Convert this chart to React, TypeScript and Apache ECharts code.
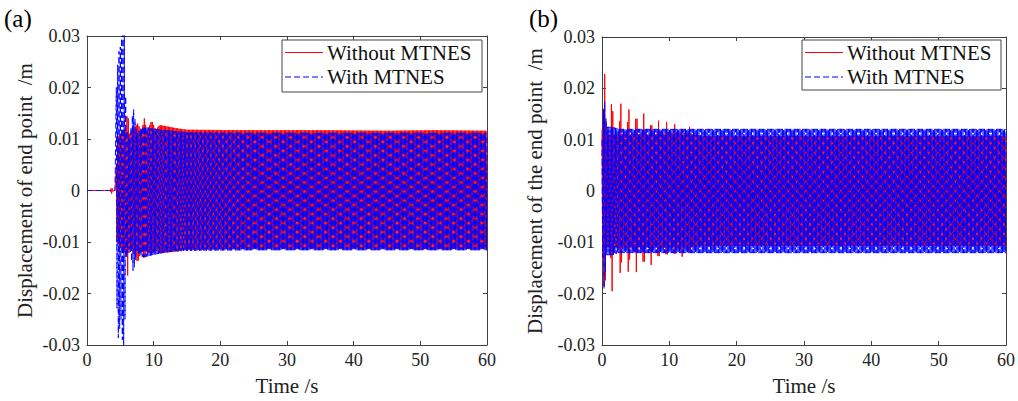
import React, { useEffect, useRef } from "react";
import * as echarts from "echarts";

// ---------- Data (envelopes) ----------
// Panel (a): Without MTNES (red)
const aRedT = [0, 3.4, 3.7, 4.0, 4.3, 4.5, 5.5, 5.85, 6.1, 6.35, 7.0, 7.6, 8.2, 8.6, 9.0, 9.7, 10.3, 10.9, 12.2, 13.3, 15, 25, 35, 45, 52, 60];
const aRedUp = [0, 0, 0.0006, 0, 0, 0.010, 0.012, 0.012, 0.016, 0.011, 0.012, 0.013, 0.0115, 0.014, 0.0115, 0.0136, 0.0118, 0.0127, 0.0124, 0.0121, 0.0118, 0.0117, 0.0117, 0.0116, 0.0117, 0.0116];
const aRedLo = [0, 0, -0.0006, 0, 0, -0.010, -0.012, -0.012, -0.0165, -0.011, -0.012, -0.014, -0.0115, -0.0135, -0.0115, -0.0125, -0.0115, -0.0122, -0.012, -0.0118, -0.0115, -0.0113, -0.0113, -0.0113, -0.0114, -0.0113];
// Panel (a): With MTNES (blue)
const aBlueT = [0, 4.3, 4.4, 4.7, 5.1, 5.55, 5.9, 6.4, 6.95, 7.5, 8.4, 10, 12, 15, 25, 35, 45, 60];
const aBlueUp = [0, 0, 0.020, 0.0266, 0.0283, 0.034, 0.012, 0.010, 0.0162, 0.011, 0.0125, 0.012, 0.0117, 0.0113, 0.0112, 0.0112, 0.0112, 0.0112];
const aBlueLo = [0, 0, -0.020, -0.0286, -0.025, -0.034, -0.013, -0.011, -0.016, -0.012, -0.013, -0.0125, -0.012, -0.0117, -0.0116, -0.0116, -0.0116, -0.0116];

// Panel (b): Without MTNES (red)
const bRedT = [0, 0.15, 0.4, 0.65, 1.25, 1.48, 1.72, 2.5, 2.77, 3.0, 3.7, 3.95, 4.2, 4.85, 5.1, 5.35, 5.95, 6.2, 6.45, 7.05, 7.3, 7.55, 8.15, 8.4, 8.65, 9.35, 9.6, 9.85, 10.55, 10.8, 11.05, 11.65, 11.9, 12.15, 12.75, 13.0, 13.25, 15, 60];
const bRedUp = [0.012, 0.014, 0.0228, 0.011, 0.011, 0.0201, 0.011, 0.011, 0.0179, 0.011, 0.011, 0.0171, 0.011, 0.011, 0.0161, 0.011, 0.011, 0.0151, 0.011, 0.011, 0.014, 0.011, 0.011, 0.0137, 0.011, 0.011, 0.0134, 0.011, 0.011, 0.013, 0.011, 0.011, 0.0127, 0.011, 0.011, 0.0125, 0.011, 0.0107, 0.0107];
const bRedLo = [-0.012, -0.014, -0.0217, -0.011, -0.011, -0.0203, -0.011, -0.011, -0.0177, -0.011, -0.011, -0.0169, -0.011, -0.011, -0.0158, -0.011, -0.011, -0.0156, -0.011, -0.011, -0.0144, -0.011, -0.011, -0.0138, -0.011, -0.011, -0.0132, -0.011, -0.011, -0.013, -0.011, -0.011, -0.0128, -0.011, -0.011, -0.0125, -0.011, -0.0107, -0.0107];
// Panel (b): With MTNES (blue)
const bBlueT = [0, 0.3, 0.7, 1.5, 2.5, 60];
const bBlueUp = [0.010, 0.019, 0.0125, 0.0125, 0.0121, 0.0121];
const bBlueLo = [-0.010, -0.019, -0.0125, -0.0125, -0.0121, -0.0121];

const HALF_PERIOD = 0.1; // s, oscillation half period of the dense response
const T_END = 60;

const xTicksInterval = 10;
const yTicksInterval = 0.01;

const SERIES_NAMES = ["Without MTNES", "With MTNES"];
const PANEL_LABELS = ["(a)", "(b)"];
const Y_NAMES = ["Displacement of end point  /m", "Displacement of the end point  /m"];
const X_NAME = "Time /s";
const FONT = "Liberation Serif";

function envAt(T: number[], V: number[], t: number): number {
  if (t <= T[0]) return V[0];
  for (let i = 1; i < T.length; i++) {
    if (t <= T[i]) {
      const f = (t - T[i - 1]) / (T[i] - T[i - 1]);
      return V[i - 1] + f * (V[i] - V[i - 1]);
    }
  }
  return V[V.length - 1];
}

function oscillation(T: number[], Up: number[], Lo: number[]): number[][] {
  const pts: number[][] = [];
  const n = Math.round(T_END / HALF_PERIOD);
  for (let k = 0; k <= n; k++) {
    const t = k * HALF_PERIOD;
    pts.push([t, k % 2 === 0 ? envAt(T, Up, t) : envAt(T, Lo, t)]);
  }
  return pts;
}

const AXIS_COLOR = "#404040";
const TEXT_COLOR = "#222";

function axesFor(gridIndex: number, yName: string, yGap: number) {
  const common = {
    type: "value",
    gridIndex,
    axisLine: { show: true, onZero: false, lineStyle: { color: AXIS_COLOR, width: 1 } },
    axisTick: { show: true, inside: true, length: 4, lineStyle: { color: AXIS_COLOR } },
    splitLine: { show: false },
  };
  const xMain = {
    ...common,
    min: 0,
    max: 60,
    interval: xTicksInterval,
    position: "bottom",
    name: X_NAME,
    nameLocation: "middle",
    nameGap: 30,
    nameTextStyle: { fontFamily: FONT, fontSize: 21, color: TEXT_COLOR, fontWeight: "normal" },
    axisLabel: { fontFamily: FONT, fontSize: 18, color: TEXT_COLOR, margin: 6 },
  };
  const xTop = {
    ...common,
    min: 0,
    max: 60,
    interval: xTicksInterval,
    position: "top",
    axisLabel: { show: false },
  };
  const yMain = {
    ...common,
    min: -0.03,
    max: 0.03,
    interval: yTicksInterval,
    position: "left",
    name: yName,
    nameLocation: "middle",
    nameGap: yGap,
    nameTextStyle: { fontFamily: FONT, fontSize: 21, color: TEXT_COLOR, fontWeight: "normal" },
    axisLabel: {
      fontFamily: FONT,
      fontSize: 18,
      color: TEXT_COLOR,
      margin: 7,
      formatter: (v: number) => (Math.abs(v) < 1e-9 ? "0" : v.toFixed(2)),
    },
  };
  const yRight = {
    ...common,
    min: -0.03,
    max: 0.03,
    interval: yTicksInterval,
    position: "right",
    axisLabel: { show: false },
  };
  return { x: [xMain, xTop], y: [yMain, yRight] };
}

const RED = "#ff0000";
const BLUE = "#0000ff";
const DASH = [6, 3];
const DASH_B = [7, 2.5];

function legendGraphic(x: number, y: number, w: number, h: number) {
  const row1 = y + 12.5;
  const row2 = y + 37;
  return [
    {
      type: "rect",
      z: 100,
      shape: { x, y, width: w, height: h },
      style: { fill: "#fff", stroke: "#444", lineWidth: 1 },
    },
    {
      type: "line",
      z: 101,
      shape: { x1: x + 3, y1: row1, x2: x + 41, y2: row1 },
      style: { stroke: RED, lineWidth: 1.2 },
    },
    {
      type: "line",
      z: 101,
      shape: { x1: x + 3, y1: row2, x2: x + 41, y2: row2 },
      style: { stroke: BLUE, lineWidth: 1.2, lineDash: DASH },
    },
    {
      type: "text",
      z: 101,
      style: { text: SERIES_NAMES[0], x: x + 45, y: row1, verticalAlign: "middle", fontFamily: FONT, fontSize: 21, fill: "#111" },
    },
    {
      type: "text",
      z: 101,
      style: { text: SERIES_NAMES[1], x: x + 45, y: row2, verticalAlign: "middle", fontFamily: FONT, fontSize: 21, fill: "#111" },
    },
  ];
}

export default function App() {
  const ref = useRef<HTMLDivElement>(null);
  useEffect(() => {
    document.body.style.margin = "0";
    if (!ref.current) return;
    const chart = echarts.init(ref.current, undefined, { renderer: "svg" });
    const axA = axesFor(0, Y_NAMES[0], 52);
    const axB = axesFor(1, Y_NAMES[1], 57);

    const redStyle = { color: RED, width: 1, type: "solid" };
    const blueStyleA = { color: BLUE, width: 1, type: DASH };
    const blueStyleB = { color: BLUE, width: 1, type: DASH_B };

    const mk = (name: string, xi: number, yi: number, data: number[][], ls: any) => ({
      name,
      type: "line",
      xAxisIndex: xi,
      yAxisIndex: yi,
      data,
      showSymbol: false,
      symbol: "none",
      clip: true,
      lineStyle: ls,
      itemStyle: { color: ls.color },
    });

    chart.setOption({
      animation: false,
      backgroundColor: "#fff",
      textStyle: { fontFamily: FONT },
      grid: [
        { left: 87, top: 36, width: 400, height: 309 },
        { left: 602, top: 37, width: 405, height: 308 },
      ],
      xAxis: [...axA.x, ...axB.x],
      yAxis: [...axA.y, ...axB.y],
      graphic: [
        { type: "text", z: 100, style: { text: PANEL_LABELS[0], x: 4, y: 6, fontFamily: FONT, fontSize: 25, fill: "#000" } },
        { type: "text", z: 100, style: { text: PANEL_LABELS[1], x: 529, y: 6, fontFamily: FONT, fontSize: 25, fill: "#000" } },
        ...legendGraphic(282, 40, 200, 52),
        ...legendGraphic(802, 40, 199, 50),
      ],
      series: [
        mk(SERIES_NAMES[0], 0, 0, oscillation(aRedT, aRedUp, aRedLo), redStyle),
        mk(SERIES_NAMES[1], 0, 0, oscillation(aBlueT, aBlueUp, aBlueLo), blueStyleA),
        mk(SERIES_NAMES[0], 2, 2, oscillation(bRedT, bRedUp, bRedLo), redStyle),
        mk(SERIES_NAMES[1], 2, 2, oscillation(bBlueT, bBlueUp, bBlueLo), blueStyleB),
      ],
    });
    return () => chart.dispose();
  }, []);
  return <div ref={ref} style={{ width: 1018, height: 401 }} />;
}
